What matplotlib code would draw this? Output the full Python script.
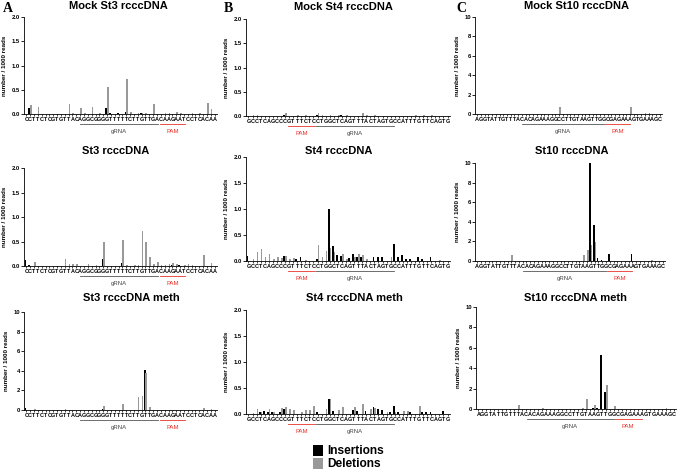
import numpy as np
import matplotlib
matplotlib.use("Agg")
import matplotlib.pyplot as plt
import matplotlib.transforms as mtransforms
from matplotlib.patches import Patch

plt.rcParams['font.family'] = ['Liberation Sans', 'DejaVu Sans']

# target sequences (x tick labels)
seq_st3 = "CCTTCTCGTGTTACAGGCGGGGTTTTTCTTGTTGACAAGAATCCTCACAA"
seq_st4 = "GCCTCAGCCCGTTTCTCCTGGCTCAGTTTACTAGTGCCATTTGTTCAGTG"
seq_st10 = "AGGTATTGTTTACACAGAAAGGCCTTGTAAGTTGGCGAGAAAGTGAAAGC"

# gRNA / PAM spans (positions along the sequence)
grna_st3, pam_st3 = (14.0, 34.3), (34.7, 41.3)
grna_st4, pam_st4 = (16.7, 35.8), (9.8, 16.3)
grna_st10, pam_st10 = (12.1, 34.0), (34.2, 41.0)

# number / 1000 reads per position: insertions and deletions
mock_st3_ins = [0, .13, 0, 0, 0, 0, 0, 0, 0, 0, 0, 0, 0, 0, 0, 0, 0, 0, 0, 0, 0, .13, .02, 0, .02,
                0, .05, 0, 0, 0, .02, 0, 0, 0, 0, 0, 0, 0, 0, 0, 0, 0, 0, 0, 0, 0, 0, 0, 0, 0]
mock_st3_del = [0, .18, 0, .15, 0, 0, 0, 0, 0, 0, 0, .20, .02, 0, .12, .03, 0, .15, 0, .02, 0, .55, 0, 0, 0,
                0, .72, .04, 0, .02, .02, .03, 0, .20, 0, 0, .02, .03, 0, .04, .03, 0, 0, .02, 0, .03, 0, .22, .10, 0]
st3_ins = [.12, .03, 0, 0, 0, 0, 0, 0, 0, 0, 0, 0, 0, 0, 0, 0, 0, 0, 0, 0, .15, 0, 0, 0, 0,
           .07, 0, 0, 0, 0, 0, 0, 0, 0, 0, 0, 0, 0, .02, 0, .02, 0, 0, 0, 0, 0, 0, 0, 0, 0]
st3_del = [0, 0, .08, 0, 0, 0, 0, 0, 0, 0, .15, .05, .04, .05, 0, 0, .05, 0, .02, 0, .48, 0, 0, 0, 0,
           .53, .03, 0, .03, .03, .72, .48, .18, .04, .09, .03, .03, .04, .06, .05, 0, .03, .04, .03, 0, 0, .22, 0, .07, 0]
st3_meth_ins = [.20, 0, 0, 0, 0, 0, 0, 0, 0, 0, 0, 0, 0, 0, 0, 0, 0, 0, 0, 0, .10, 0, 0, 0, 0,
                .05, 0, 0, 0, 0, 0, 4.05, 0, 0, 0, 0, 0, 0, 0, 0, 0, 0, 0, 0, 0, 0, 0, 0, 0, 0]
st3_meth_del = [0, 0, .10, 0, 0, 0, 0, 0, 0, 0, .15, 0, 0, 0, 0, 0, 0, 0, 0, 0, .45, 0, 0, 0, 0,
                .65, 0, 0, 0, 1.30, 1.45, 3.80, .30, 0, 0, 0, 0, 0, 0, 0, 0, 0, 0, 0, 0, 0, .20, 0, .10, 0]

mock_st4_ins = [0, 0, 0, 0, 0, 0, 0, 0, 0, .02, 0, 0, 0, 0, 0, 0, 0, .02, 0, 0, 0, 0, 0, .02, 0,
                0, 0, 0, 0, 0, 0, 0, 0, 0, 0, 0, 0, 0, 0, 0, 0, 0, 0, 0, 0, 0, 0, 0, 0, 0]
mock_st4_del = [0, .03, .02, 0, 0, 0, 0, 0, 0, .06, 0, 0, .03, 0, .02, 0, 0, .06, .03, 0, .03, 0, .03, 0, .02,
                0, 0, 0, .07, .02, 0, .02, 0, 0, 0, 0, 0, 0, 0, 0, 0, .03, 0, .02, 0, .03, 0, 0, 0, 0]
st4_ins = [.10, 0, 0, 0, 0, 0, 0, 0, 0, .10, 0, 0, .04, .07, 0, 0, 0, .04, 0, 0, 1.0, .29, .11, .09, 0,
           .05, .14, .08, .08, 0, 0, .08, .08, .08, 0, 0, .32, .08, .11, .04, .03, 0, .07, .04, 0, .07, 0, 0, 0, 0]
st4_del = [0, .03, .17, .24, .07, .14, .03, .07, .05, .10, .03, .06, 0, 0, .02, 0, 0, .31, .07, .20, .25, .18, 0, .14, .03,
           0, .07, .14, .11, .04, 0, 0, 0, 0, 0, .07, 0, 0, 0, 0, 0, 0, 0, 0, 0, 0, 0, .02, 0, 0]
st4_meth_ins = [0, 0, 0, .04, .05, .04, .04, 0, .03, .10, 0, 0, 0, 0, 0, 0, 0, .03, 0, 0, .29, .05, 0, 0, 0,
                0, .07, .05, 0, .05, 0, .13, .10, .07, 0, .03, .16, .03, 0, 0, .03, 0, 0, .03, .03, .03, 0, 0, .06, 0]
st4_meth_del = [0, .02, .10, .03, 0, .10, .03, 0, .12, .13, .10, .07, 0, .04, .07, .07, .16, 0, 0, .10, .28, 0, .07, .13, 0,
                0, .13, 0, .20, 0, .10, .12, 0, 0, .03, 0, .03, 0, .06, .06, 0, 0, .16, 0, 0, 0, 0, 0, 0, 0]

mock_st10_ins = [0, 0, 0, 0, 0, .03, 0, 0, 0, 0, 0, 0, 0, 0, 0, 0, 0, 0, 0, 0, .03, 0, 0, 0, 0,
                 0, 0, 0, 0, 0, 0, 0, 0, .03, 0, 0, 0, 0, 0, 0, 0, 0, 0, 0, 0, 0, 0, 0, 0, 0]
mock_st10_del = [0, 0, .05, 0, 0, 0, 0, 0, 0, 0, 0, 0, 0, 0, .05, 0, 0, 0, .05, 0, 0, 0, .70, 0, 0,
                 0, .05, 0, 0, 0, .05, 0, 0, 0, 0, 0, .05, 0, 0, 0, 0, .70, 0, 0, 0, .08, .08, 0, 0, 0]
st10_ins = [0, 0, 0, 0, 0, 0, 0, 0, 0, 0, 0, 0, 0, 0, 0, 0, 0, 0, 0, 0, 0, 0, 0, 0, 0,
            0, 0, 0, 0, 0, 10.0, 3.70, .30, .10, 0, .70, 0, 0, 0, 0, 0, .70, 0, 0, 0, 0, 0, 0, 0, 0]
st10_del = [0, 0, 0, 0, 0, 0, 0, 0, 0, .60, 0, 0, 0, 0, 0, 0, 0, 0, 0, 0, 0, 0, 0, 0, 0,
            0, 0, 0, .60, 1.10, 1.60, 1.90, 0, 0, 0, 0, 0, 0, 0, 0, 0, 0, 0, 0, 0, 0, .15, 0, 0, 0]
st10_meth_ins = [0, 0, 0, 0, 0, 0, 0, 0, 0, 0, 0, 0, 0, 0, 0, 0, 0, 0, 0, 0, 0, 0, 0, 0, 0,
                 0, 0, 0, 0, .05, .10, 5.30, 1.70, 0, 0, 0, 0, 0, 0, 0, 0, 0, 0, 0, 0, 0, 0, 0, 0, 0]
st10_meth_del = [0, 0, 0, 0, 0, 0, 0, 0, 0, 0, .40, 0, 0, 0, 0, 0, .05, 0, 0, 0, 0, 0, 0, 0, 0,
                 0, .05, .95, 0, .35, 0, 0, 2.35, 0, .30, 0, 0, 0, 0, 0, 0, 0, 0, 0, 0, 0, 0, .10, 0, 0]

W, H = 677, 470
fig = plt.figure(figsize=(W / 100, H / 100), dpi=100)

GRAY = '#999999'


def panel(box, seq, ins, dels, ymax, title, title_xy, grna, pam):
    l, t, r, b = box
    ax = fig.add_axes([l / W, 1 - b / H, (r - l) / W, (b - t) / H])
    x = np.arange(len(seq))
    ax.bar(x - 0.21, ins, width=0.44, color='black', linewidth=0)
    ax.bar(x + 0.21, dels, width=0.42, color=GRAY, linewidth=0)
    ax.set_xlim(-0.6, len(seq) - 0.4)
    ax.set_ylim(0, ymax)
    for s in ['top', 'right']:
        ax.spines[s].set_visible(False)
    for s in ['left', 'bottom']:
        ax.spines[s].set_linewidth(0.6)
    ax.set_xticks(x)
    ax.set_xticklabels(list(seq), fontsize=4.0, fontweight='bold')
    if ymax == 2:
        ax.set_yticks([0, 0.5, 1.0, 1.5, 2.0])
        ax.set_yticklabels(['0.0', '0.5', '1.0', '1.5', '2.0'])
    else:
        ax.set_yticks([0, 2, 4, 6, 8, 10])
        ax.set_yticklabels(['0', '2', '4', '6', '8', '10'])
    ax.tick_params(axis='x', length=1.5, width=0.5, pad=0.8)
    ax.tick_params(axis='y', length=2, width=0.6, pad=1, labelsize=4.2)
    for lab in ax.get_yticklabels():
        lab.set_fontweight('bold')
    ax.set_ylabel('number / 1000 reads', fontsize=4.5, fontweight='bold', labelpad=3)

    # gRNA / PAM underlines below the sequence
    line_tr = mtransforms.offset_copy(ax.get_xaxis_transform(), fig=fig, y=-10, units='dots')
    text_tr = mtransforms.offset_copy(ax.get_xaxis_transform(), fig=fig, y=-17.5, units='dots')
    ax.plot(grna, [0, 0], transform=line_tr, color='#555555', lw=0.6, clip_on=False)
    ax.plot(pam, [0, 0], transform=line_tr, color='#e8332a', lw=0.6, clip_on=False)
    ax.text(sum(grna) / 2, 0, 'gRNA', transform=text_tr, ha='center', va='center',
            fontsize=4.3, color='#444444')
    ax.text(sum(pam) / 2, 0, 'PAM', transform=text_tr, ha='center', va='center',
            fontsize=4.3, color='#e8332a')

    fig.text(title_xy[0] / W, 1 - title_xy[1] / H, title, ha='center', va='center',
             fontsize=8, fontweight='bold')
    return ax


# column A
panel((24, 17, 217, 114), seq_st3, mock_st3_ins, mock_st3_del, 2, 'Mock St3 rcccDNA', (118, 6), grna_st3, pam_st3)
panel((24, 168, 217, 266), seq_st3, st3_ins, st3_del, 2, 'St3 rcccDNA', (116, 151), grna_st3, pam_st3)
panel((24, 312, 217, 410), seq_st3, st3_meth_ins, st3_meth_del, 10, 'St3 rcccDNA meth', (131, 298), grna_st3, pam_st3)
# column B
panel((246, 19, 450, 116), seq_st4, mock_st4_ins, mock_st4_del, 2, 'Mock St4 rcccDNA', (343, 7), grna_st4, pam_st4)
panel((246, 157, 450, 261), seq_st4, st4_ins, st4_del, 2, 'St4 rcccDNA', (339, 151), grna_st4, pam_st4)
panel((246, 310, 450, 414), seq_st4, st4_meth_ins, st4_meth_del, 2, 'St4 rcccDNA meth', (354, 298), grna_st4, pam_st4)
# column C
panel((475, 17, 662, 114), seq_st10, mock_st10_ins, mock_st10_del, 10, 'Mock St10 rcccDNA', (576, 6), grna_st10, pam_st10)
panel((475, 163, 665, 261), seq_st10, st10_ins, st10_del, 10, 'St10 rcccDNA', (572, 151), grna_st10, pam_st10)
panel((476, 307, 676, 409), seq_st10, st10_meth_ins, st10_meth_del, 10, 'St10 rcccDNA meth', (575, 298), grna_st10, pam_st10)

# panel letters
for letter, px in [('A', 3), ('B', 224), ('C', 456)]:
    fig.text(px / W, 1 - 9 / H, letter, ha='left', va='center', fontsize=10,
             fontweight='bold', family='Liberation Serif')

fig.legend(handles=[Patch(facecolor='black'), Patch(facecolor=GRAY)],
           labels=['Insertions', 'Deletions'], loc='upper left',
           bbox_to_anchor=(307 / W, 1 - 439 / H), frameon=False,
           prop={'weight': 'bold', 'size': 8.6}, handlelength=0.8, handleheight=1.0,
           handletextpad=0.4, labelspacing=0.05, borderpad=0.0)

fig.savefig('out.png', dpi=100)
